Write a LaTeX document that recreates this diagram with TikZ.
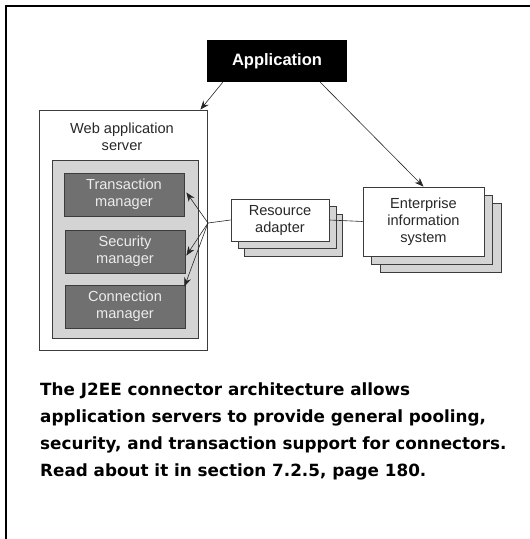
\documentclass[tikz,border=0pt]{standalone}
\usepackage{fontspec}
\setmainfont{Liberation Sans}
\newfontfamily\capfont{DejaVu Sans}
\usepackage{xcolor}
\definecolor{panelgray}{RGB}{212,212,212}
\definecolor{mgrgray}{RGB}{112,112,112}
\definecolor{mgrtext}{RGB}{236,236,236}
\definecolor{edgegray}{RGB}{60,60,60}
\definecolor{labeltext}{RGB}{40,40,40}
\usepackage{tikz}
\usetikzlibrary{arrows.meta,positioning}

\begin{document}
\begin{tikzpicture}[x=1pt,y=-1pt,
  every node/.style={font=\fontsize{14.6}{17}\selectfont,inner sep=0pt,text=labeltext},
  box/.style={rectangle,draw=edgegray,line width=0.8pt,fill=white,align=center},
  copybox/.style={rectangle,draw=edgegray,line width=0.8pt,fill=panelgray},
  mgr/.style={rectangle,draw=edgegray,line width=0.8pt,fill=mgrgray,text=mgrtext,
              minimum width=120pt,minimum height=43pt,align=center},
  link/.style={line width=0.6pt,draw=black!85},
  arr/.style={link,-{Stealth[length=9pt,width=7pt]}}]
  \useasboundingbox (0,0) rectangle (530,539);
  % frame
  \draw[line width=2pt] (6,539) -- (6,6) -- (530,6);

  % Application
  \node[rectangle,fill=black,text=white,minimum width=140pt,minimum height=42pt,
        font=\fontsize{16.5}{20}\selectfont\bfseries] at (277,61) (app) {Application};

  % Web application server
  \node[box,minimum width=168pt,minimum height=240pt] at (123,230) (web) {};
  \node[align=center] at (122,137) (webtitle) {Web application\\server};
  \node[rectangle,draw=edgegray,line width=0.8pt,fill=panelgray,
        minimum width=146pt,minimum height=178pt] at (125,249) (panel) {};
  \node[mgr] at (124,194.5) (tm) {Transaction\\manager};
  \node[mgr] at (125,251.5) (sm) {Security\\manager};
  \node[mgr] at (125,306.5) (cm) {Connection\\manager};
  \coordinate (hub) at (208,223);

  % Resource adapter
  \node[copybox,minimum width=98pt,minimum height=42pt] at (293.5,235) (ra3) {};
  \node[copybox,minimum width=98pt,minimum height=42pt] at (287,227.5) (ra2) {};
  \node[box,minimum width=98pt,minimum height=42pt] at (280,220) (ra) {Resource\\adapter};

  % Enterprise information system
  \node[copybox,minimum width=121pt,minimum height=69pt] at (440.5,238) (eis3) {};
  \node[copybox,minimum width=121pt,minimum height=69pt] at (432,229.5) (eis2) {};
  \node[box,minimum width=121pt,minimum height=69pt] at (423.5,221.5) (eis) {Enterprise\\information\\system};

  % connectors
  \draw[arr] ([xshift=16pt]app.south west) -- ([xshift=-7pt]web.north east);
  \draw[arr] ([xshift=-27pt]app.south east) -- (eis.north);
  \draw[arr] (hub) -- ([shift={(2pt,2pt)}]tm.east);
  \draw[arr] (hub) -- ([shift={(1pt,-4pt)}]sm.east);
  \draw[arr] (hub) -- ([shift={(-1pt,-2pt)}]cm.north east);
  \draw[link] (hub) -- (ra.west);
  \draw[link] (ra.east) -- (eis.west);

  % caption
  \node[anchor=north west,align=left,text=black,font=\capfont\fontsize{16.8}{27}\selectfont\bfseries]
    at (40,383) (caption) {The J2EE connector architecture allows\\
    application servers to provide general pooling,\\
    security, and transaction support for connectors.\\
    Read about it in section 7.2.5, page 180.};
\end{tikzpicture}
\end{document}
